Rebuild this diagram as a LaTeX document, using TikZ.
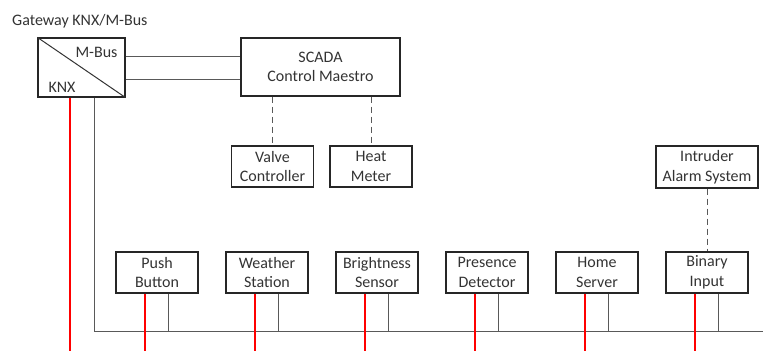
\documentclass[tikz,border=0pt]{standalone}
\usepackage{fontspec}
\setmainfont{Carlito}
\usetikzlibrary{calc,positioning}

\begin{document}
\begin{tikzpicture}[
    x=1pt, y=-1pt,
    font=\fontsize{16}{19.5}\selectfont,
    box/.style={
        draw=black!85,
        line width=1.3pt,
        align=center,
        inner sep=0pt,
        text=black!80
    },
    dev/.style={box, minimum width=82pt, minimum height=41pt},
    bus/.style={draw=black!65, line width=1pt},
    redline/.style={draw=red, line width=1.1pt},
    link/.style={draw=black!65, line width=1pt, dash pattern=on 6pt off 4pt},
    lbl/.style={inner sep=0pt, text=black!80}
]
\useasboundingbox (0,0) rectangle (763,351);

% passerelle
\node[lbl, anchor=west] (title) at (12,21) {Gateway KNX/M-Bus};
\node[box, minimum width=87pt, minimum height=59pt] (gw) at (81.5,67.5) {};
\draw[draw=black!80, line width=1pt] (gw.north west) -- (gw.south east);
\node[lbl, anchor=east] (mbus) at ([xshift=-8pt,yshift=-15pt]gw.north east) {M-Bus};
\node[lbl, anchor=west] (knxlbl) at ([xshift=11pt,yshift=10pt]gw.south west) {KNX};

% supervision
\node[box, minimum width=159pt, minimum height=58pt] (scada) at (320.5,67) {SCADA\\Control Maestro};
\node[dev]  (valve) at (272.5,166.5) {Valve\\Controller};
\node[dev]  (heat)  at (371,166.5)   {Heat\\Meter};
\node[box, minimum width=102pt, minimum height=42pt] (alarm) at (707,167) {Intruder\\Alarm System};

% appareils KNX
\node[dev] (push)     at (157,272.5) {Push\\Button};
\node[dev] (weather)  at (267,272.5) {Weather\\Station};
\node[dev] (bright)   at (377,272.5) {Brightness\\Sensor};
\node[dev] (presence) at (487,272.5) {Presence\\Detector};
\node[dev] (server)   at (597,272.5) {Home\\Server};
\node[dev] (binary)   at (707,272.5) {Binary\\Input};

\coordinate (busE) at (763,331);
\coordinate (bot)  at (0,351);

% liaisons M-Bus
\draw[bus] ([yshift=11.5pt]gw.east)  -- ([yshift=11.5pt]gw.east -| scada.west);
\draw[bus] ([yshift=-11.5pt]gw.east) -- ([yshift=-11.5pt]gw.east -| scada.west);
\draw[link] (valve.north |- scada.south) -- (valve.north);
\draw[link] (heat.north |- scada.south)  -- (heat.north);
\draw[link] (alarm.south) -- (binary.north);

% bus
\draw[bus] ([xshift=12.5pt]gw.south) |- (busE);
\draw[bus] ([xshift=11pt]push.south)      -- ([xshift=11pt]push.south |- busE);
\draw[bus] ([xshift=11pt]weather.south)   -- ([xshift=11pt]weather.south |- busE);
\draw[bus] ([xshift=11pt]bright.south)    -- ([xshift=11pt]bright.south |- busE);
\draw[bus] ([xshift=11pt]presence.south)  -- ([xshift=11pt]presence.south |- busE);
\draw[bus] ([xshift=11pt]server.south)    -- ([xshift=11pt]server.south |- busE);
\draw[bus] ([xshift=11pt]binary.south)    -- ([xshift=11pt]binary.south |- busE);

% ligne KNX (rouge)
\draw[redline] ([xshift=-12pt]push.south)     -- ([xshift=-12pt]push.south |- bot);
\draw[redline] ([xshift=-12pt]weather.south)  -- ([xshift=-12pt]weather.south |- bot);
\draw[redline] ([xshift=-12pt]bright.south)   -- ([xshift=-12pt]bright.south |- bot);
\draw[redline] ([xshift=-12pt]presence.south) -- ([xshift=-12pt]presence.south |- bot);
\draw[redline] ([xshift=-12pt]server.south)   -- ([xshift=-12pt]server.south |- bot);
\draw[redline] ([xshift=-12pt]binary.south)   -- ([xshift=-12pt]binary.south |- bot);
\draw[redline] ([xshift=-11.5pt]gw.south)     -- ([xshift=-11.5pt]gw.south |- bot);

\end{tikzpicture}
\end{document}
